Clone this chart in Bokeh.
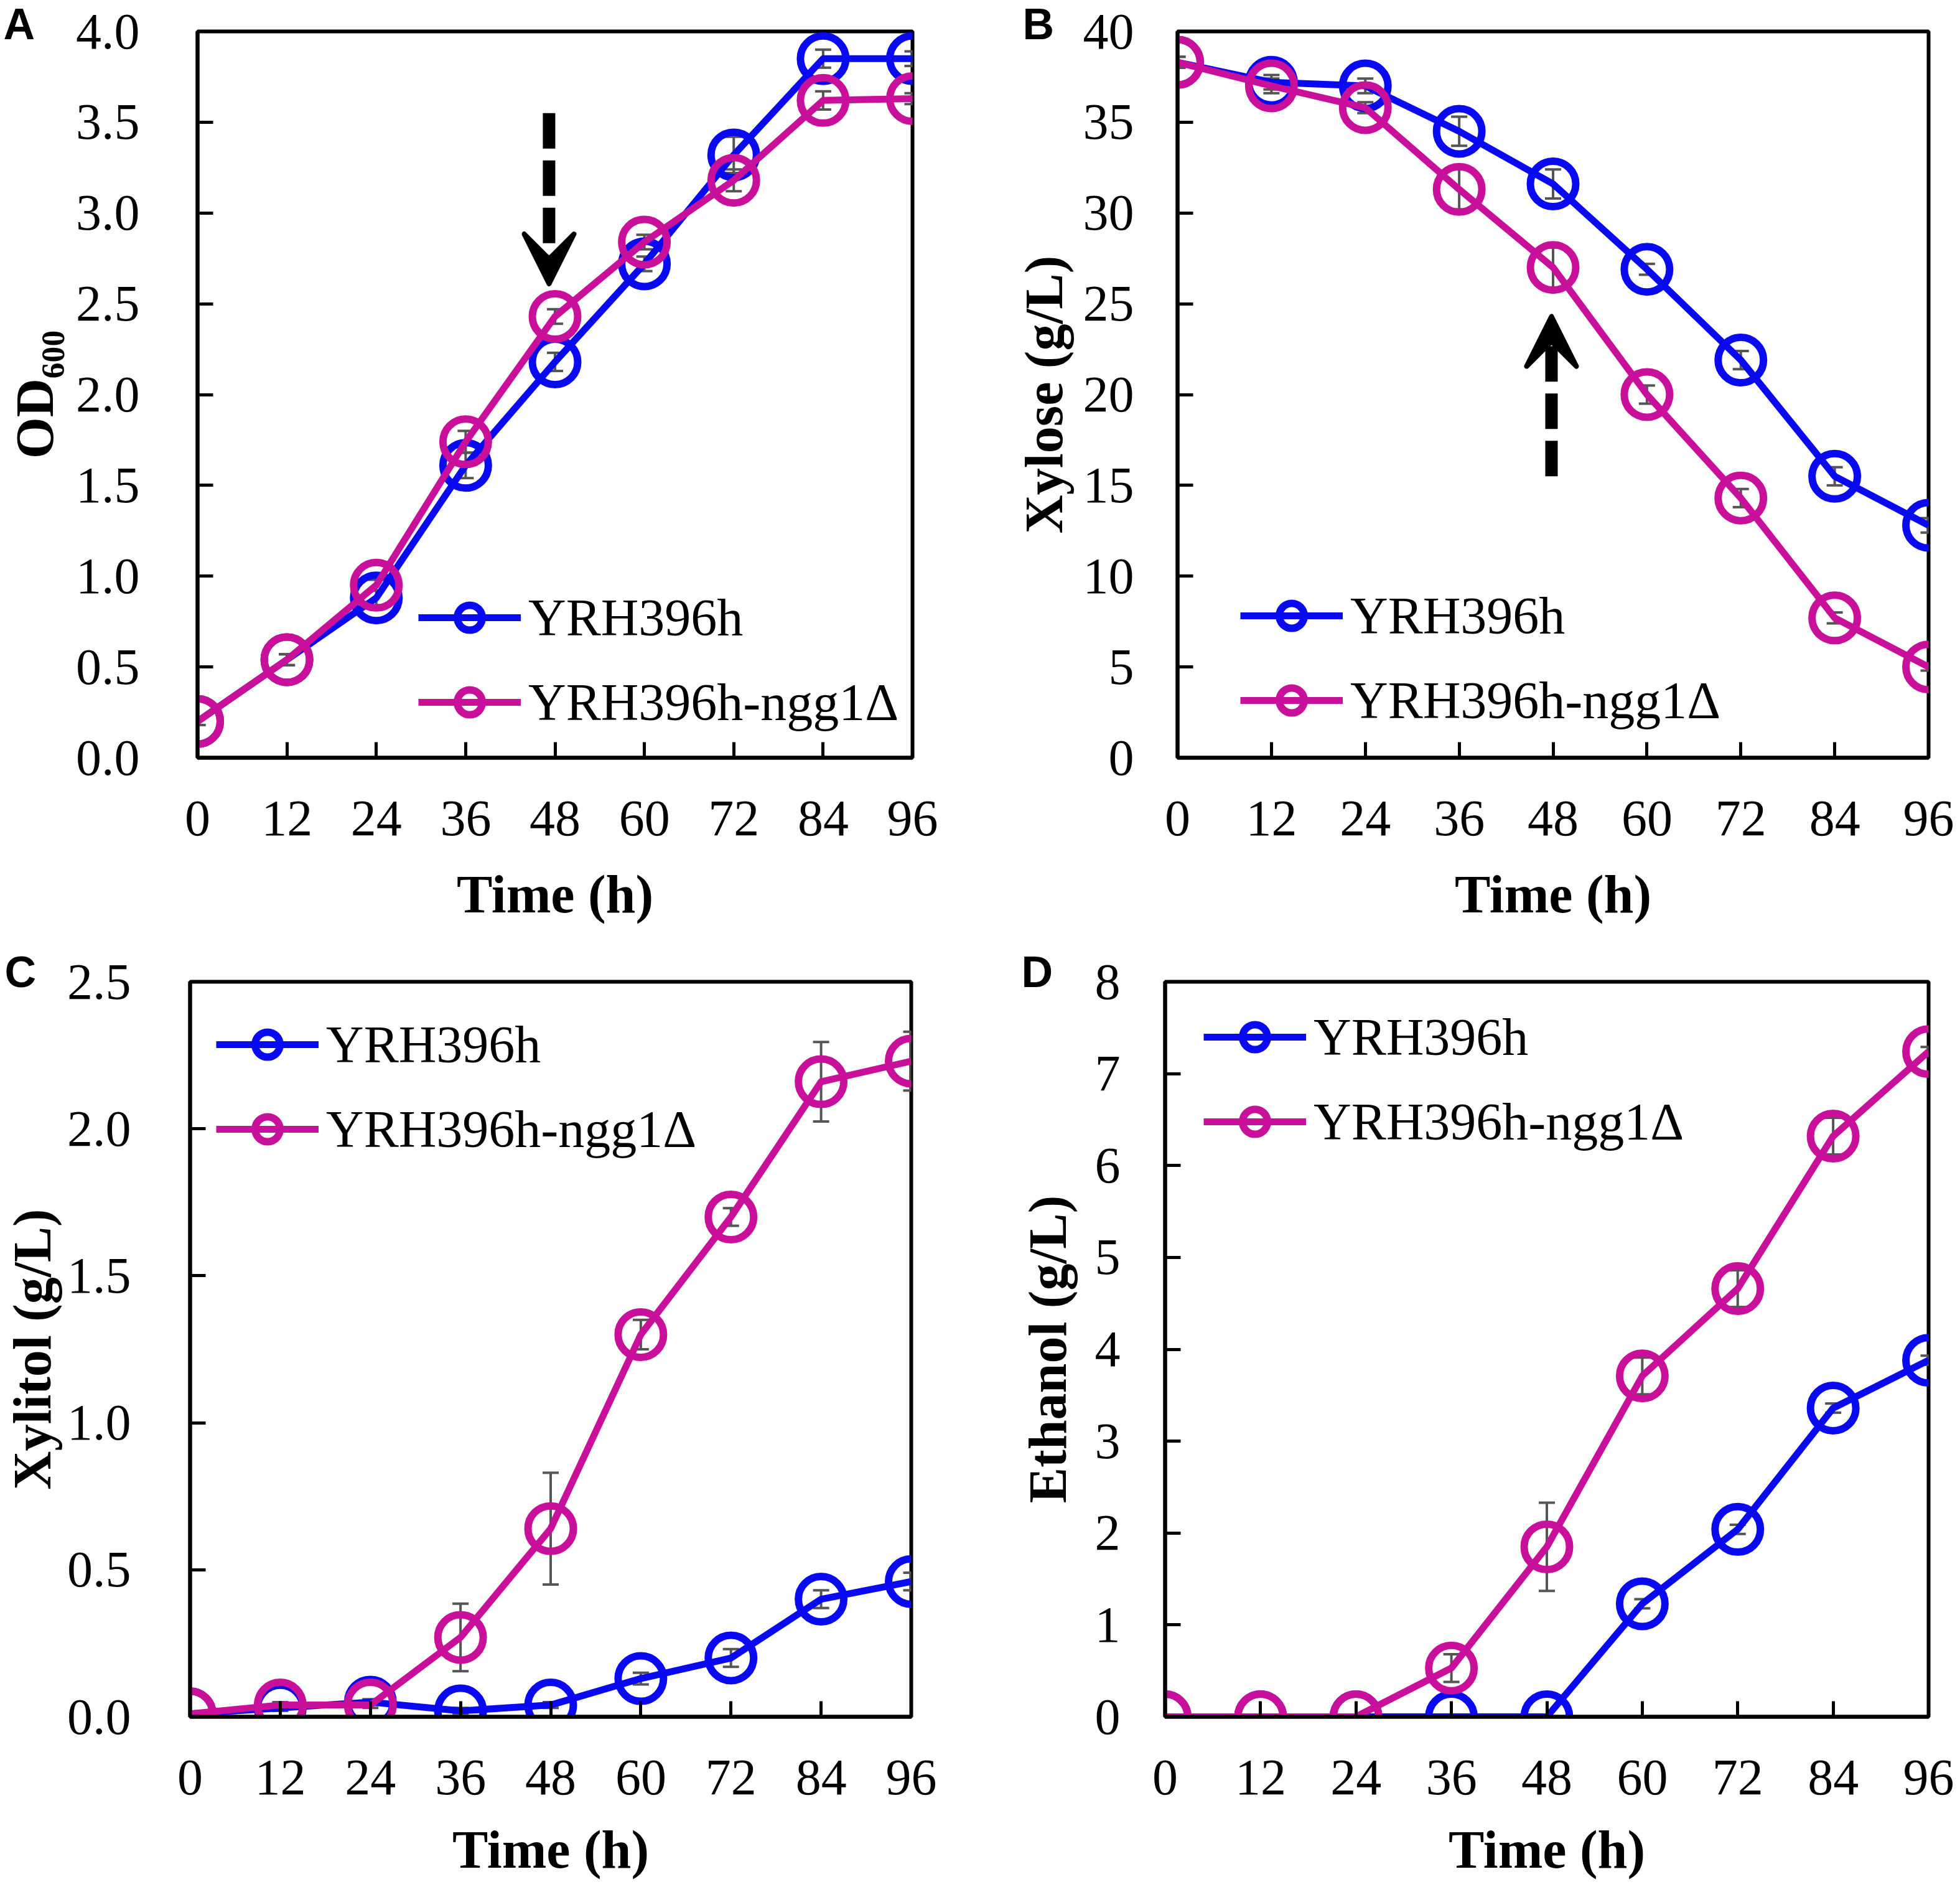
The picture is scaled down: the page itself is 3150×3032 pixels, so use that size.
from bokeh.plotting import figure
from bokeh.models import (ColumnDataSource, Whisker, TeeHead, Legend, LegendItem, FixedTicker,
                          PrintfTickFormatter, Range1d, Arrow, VeeHead)
from bokeh.layouts import column, row
from bokeh.embed import file_html
from bokeh.resources import INLINE

# ---------------- data ----------------
time_h = [0, 12, 24, 36, 48, 60, 72, 84, 96]
strain_names = ["YRH396h", "YRH396h-ngg1Δ"]

od_wt = [0.20, 0.54, 0.88, 1.61, 2.18, 2.72, 3.32, 3.85, 3.85]
od_wt_err = [0.02, 0.03, 0.04, 0.07, 0.05, 0.04, 0.10, 0.05, 0.04]
od_mut = [0.20, 0.54, 0.95, 1.74, 2.43, 2.84, 3.18, 3.62, 3.63]
od_mut_err = [0.02, 0.03, 0.03, 0.06, 0.04, 0.04, 0.06, 0.05, 0.03]

xyl_wt = [38.3, 37.2, 37.0, 34.5, 31.6, 26.9, 21.9, 15.5, 12.8]
xyl_wt_err = [0.3, 0.4, 0.4, 0.8, 0.8, 0.3, 0.5, 0.5, 0.4]
xyl_mut = [38.3, 37.0, 35.8, 31.3, 27.0, 20.0, 14.3, 7.7, 5.0]
xyl_mut_err = [0.3, 0.4, 0.3, 1.1, 1.1, 0.5, 0.5, 0.3, 0.2]

xylitol_wt = [0.01, 0.03, 0.05, 0.02, 0.04, 0.13, 0.20, 0.40, 0.46]
xylitol_wt_err = [0.005, 0.01, 0.01, 0.01, 0.01, 0.02, 0.03, 0.03, 0.03]
xylitol_mut = [0.01, 0.04, 0.04, 0.27, 0.64, 1.30, 1.70, 2.16, 2.23]
xylitol_mut_err = [0.005, 0.01, 0.01, 0.115, 0.19, 0.05, 0.03, 0.135, 0.10]

eth_wt = [0.0, 0.0, 0.0, 0.0, 0.0, 1.23, 2.04, 3.36, 3.88]
eth_wt_err = [0.0, 0.0, 0.0, 0.0, 0.0, 0.05, 0.05, 0.05, 0.05]
eth_mut = [0.0, 0.0, 0.0, 0.53, 1.85, 3.71, 4.66, 6.32, 7.24]
eth_mut_err = [0.0, 0.0, 0.0, 0.15, 0.48, 0.20, 0.20, 0.20, 0.05]

x_ticks = [0, 12, 24, 36, 48, 60, 72, 84, 96]

# arrow annotations (x, y_start, y_end) in data units
arrow_a = (47.2, 3.55, 2.61)
arrow_b = (47.8, 15.5, 24.3)

BLUE = "#0A0AF0"
MAGENTA = "#C8109A"
ERR = "#555555"
SERIF = "Liberation Serif"

panels = [
    dict(letter="A", ylabel="OD₆₀₀", yr=(0, 4), yticks=[0, 0.5, 1, 1.5, 2, 2.5, 3, 3.5, 4], fmt="%.1f",
         wt=od_wt, wte=od_wt_err, mu=od_mut, mue=od_mut_err,
         size=(1575, 1516), borders=(317, 109, 50, 299), tick_std=93, lab_std=15, leg=(355, 39),
         letter_off=-312, letter_std=-54, xlab_std=44, arrow=arrow_a),
    dict(letter="B", ylabel="Xylose (g/L)", yr=(0, 40), yticks=[0, 5, 10, 15, 20, 25, 30, 35, 40], fmt="%d",
         wt=xyl_wt, wte=xyl_wt_err, mu=xyl_mut, mue=xyl_mut_err,
         size=(1573, 1516), borders=(317, 49, 50, 299), tick_std=70, lab_std=12, leg=(101, 42),
         letter_off=-249, letter_std=-54, xlab_std=44, arrow=arrow_b),
    dict(letter="C", ylabel="Xylitol (g/L)", yr=(0, 2.5), yticks=[0, 0.5, 1, 1.5, 2, 2.5], fmt="%.1f",
         wt=xylitol_wt, wte=xylitol_wt_err, mu=xylitol_mut, mue=xylitol_mut_err,
         size=(1575, 1514), borders=(303, 111, 61, 272), tick_std=95, lab_std=5, leg=(42, 894),
         letter_off=-298, letter_std=-46, xlab_std=38, arrow=None),
    dict(letter="D", ylabel="Ethanol (g/L)", yr=(0, 8), yticks=[0, 1, 2, 3, 4, 5, 6, 7, 8], fmt="%d",
         wt=eth_wt, wte=eth_wt_err, mu=eth_mut, mue=eth_mut_err,
         size=(1573, 1514), borders=(297, 49, 61, 272), tick_std=72, lab_std=25, leg=(62, 906),
         letter_off=-231, letter_std=-46, xlab_std=38, arrow=None),
]


def make_panel(cfg):
    bl, br, bt, bb = cfg["borders"]
    w, h = cfg["size"]
    p = figure(width=w, height=h, output_backend="svg", toolbar_location=None,
               x_range=Range1d(0, 96), y_range=Range1d(*cfg["yr"]),
               min_border_left=bl, min_border_right=br, min_border_top=bt, min_border_bottom=bb,
               background_fill_color="white", border_fill_color="white")
    p.grid.visible = False
    p.outline_line_color = "black"
    p.outline_line_width = 6

    # panel letter as the plot title, pulled to the left of the frame
    p.title.text = cfg["letter"]
    p.title.align = "left"
    p.title.offset = cfg["letter_off"]
    p.title.vertical_align = "bottom"
    p.title.standoff = cfg["letter_std"]
    p.title.text_font = "Liberation Sans"
    p.title.text_font_style = "bold"
    p.title.text_font_size = "70px"
    p.title.text_color = "black"

    for ax in (p.xaxis[0], p.yaxis[0]):
        ax.axis_line_width = 6
        ax.axis_line_color = "black"
        ax.major_tick_line_width = 5
        ax.major_tick_in = 25
        ax.major_tick_out = 0
        ax.minor_tick_line_color = None
        ax.major_label_text_font = SERIF
        ax.major_label_text_font_size = "82px"
        ax.major_label_text_color = "black"
        ax.axis_label_text_font = SERIF
        ax.axis_label_text_font_size = "86px"
        ax.axis_label_text_font_style = "bold"
        ax.axis_label_text_color = "black"

    p.xaxis.ticker = FixedTicker(ticks=x_ticks)
    p.xaxis.major_label_standoff = 70
    p.xaxis.axis_label = "Time (h)"
    p.xaxis.axis_label_standoff = cfg["xlab_std"]

    p.yaxis.ticker = FixedTicker(ticks=cfg["yticks"])
    p.yaxis.formatter = PrintfTickFormatter(format=cfg["fmt"])
    p.yaxis.major_label_standoff = cfg["tick_std"]
    p.yaxis.axis_label = cfg["ylabel"]
    p.yaxis.axis_label_standoff = cfg["lab_std"]

    items = []
    for name, ys, es, col in ((strain_names[0], cfg["wt"], cfg["wte"], BLUE),
                              (strain_names[1], cfg["mu"], cfg["mue"], MAGENTA)):
        src = ColumnDataSource(data=dict(
            x=time_h, y=ys,
            upper=[v + e for v, e in zip(ys, es)],
            lower=[v - e for v, e in zip(ys, es)]))
        lr = p.line("x", "y", source=src, line_color=col, line_width=11, line_join="round")
        sr = p.scatter("x", "y", source=src, marker="circle", size=73, fill_color=None,
                       line_color=col, line_width=12)
        wk = Whisker(base="x", upper="upper", lower="lower", source=src, dimension="height",
                     line_color=ERR, line_width=4,
                     upper_head=TeeHead(size=26, line_color=ERR, line_width=4),
                     lower_head=TeeHead(size=26, line_color=ERR, line_width=4))
        p.add_layout(wk)
        items.append(LegendItem(label=name, renderers=[lr, sr]))

    legend = Legend(items=items, location=cfg["leg"], orientation="vertical",
                    glyph_width=165, glyph_height=100, label_height=100, spacing=36,
                    label_standoff=12, padding=0, margin=0,
                    label_text_font=SERIF, label_text_font_size="84px", label_text_color="black",
                    border_line_color=None, background_fill_alpha=0)
    p.add_layout(legend, "center")

    if cfg["arrow"] is not None:
        ax_, y0, y1 = cfg["arrow"]
        p.add_layout(Arrow(x_start=ax_, y_start=y0, x_end=ax_, y_end=y1,
                           line_color="black", line_width=20, line_dash="57 19",
                           end=VeeHead(size=80, fill_color="black", line_color="black",
                                       line_width=8, line_join="round")))
    return p


figs = [make_panel(c) for c in panels]
layout = column(row(figs[0], figs[1]), row(figs[2], figs[3]))

open("out.html", "w").write(file_html(layout, INLINE))
